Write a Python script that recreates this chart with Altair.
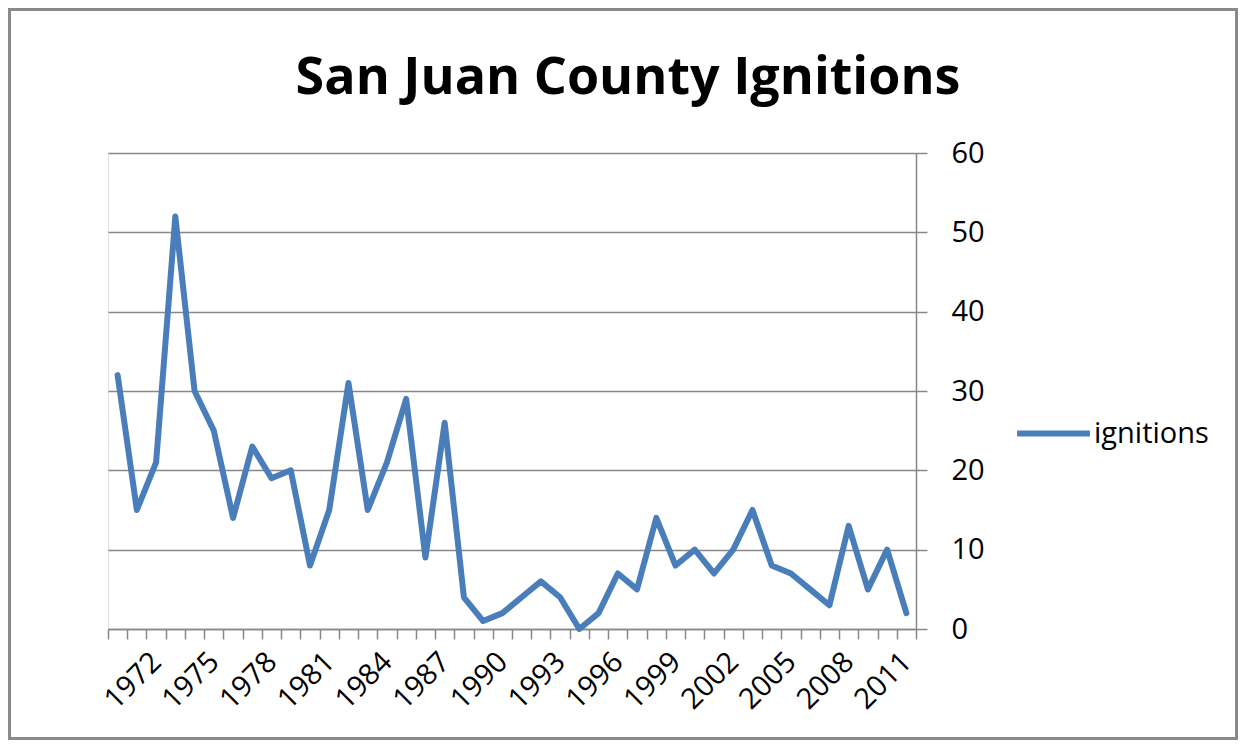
import altair as alt
import pandas as pd

years = list(range(1970, 2012))
ignitions = [32, 15, 21, 52, 30, 25, 14, 23, 19, 20,
             8, 15, 31, 15, 21, 29, 9, 26, 4, 1,
             2, 4, 6, 4, 0, 2, 7, 5, 14, 8,
             10, 7, 10, 15, 8, 7, 5, 3, 13, 5,
             10, 2]
series_name = "ignitions"
y_ticks = [0, 10, 20, 30, 40, 50, 60]
first_label_year = 1972
label_step = 3

df = pd.DataFrame({"year": years, "ignitions": ignitions, "series": series_name})

W, H = 808, 476
PAD = {"left": 100, "top": 145, "right": 322, "bottom": 111}
band = W / len(years)
tick_values = [y - 0.5 for y in years] + [years[-1] + 0.5]
FONT = "Open Sans"
GRID = "#878787"
BLUE = "#4A7EBB"
LABEL_SIZE = 29

label_expr = (
    f"(datum.value + 0.5 - {first_label_year}) % {label_step} == 0 && datum.value < {years[-1]} "
    f"? format(datum.value + 0.5, 'd') : ''"
)

line = alt.Chart(df).mark_line(strokeWidth=6, strokeJoin="round", strokeCap="round").encode(
    x=alt.X("year:Q",
            scale=alt.Scale(domain=[years[0] - 0.5, years[-1] + 0.5], nice=False, zero=False),
            axis=alt.Axis(values=tick_values, labelExpr=label_expr, title=None, grid=False,
                          orient="bottom", tickSize=10, tickColor=GRID, tickWidth=1.5,
                          domainColor=GRID, domainWidth=1.5, labelAngle=-45,
                          labelAlign="right", labelBaseline="middle",
                          labelFont=FONT, labelFontSize=LABEL_SIZE, labelColor="black",
                          labelPadding=18, labelOffset=band / 2, labelOverlap=False,
                          labelFlush=False, labelBound=False)),
    y=alt.Y("ignitions:Q",
            scale=alt.Scale(domain=[0, 60], nice=False),
            axis=alt.Axis(values=y_ticks, orient="right", title=None, grid=True,
                          gridColor=GRID, gridWidth=1.5, tickSize=11, tickColor=GRID,
                          tickWidth=1.5, domainColor=GRID, domainWidth=1.5,
                          labelFont=FONT, labelFontSize=LABEL_SIZE, labelColor="black",
                          labelPadding=24, labelAlign="left", labelBaseline="middle")),
    color=alt.Color("series:N", scale=alt.Scale(domain=[series_name], range=[BLUE]),
                    legend=alt.Legend(title=None, orient="none", legendX=906, legendY=241,
                                      symbolType="stroke", symbolSize=5300,
                                      symbolStrokeWidth=6, symbolStrokeColor=BLUE,
                                      labelFont=FONT, labelFontSize=LABEL_SIZE,
                                      labelColor="black",
                                      labelOffset=1, padding=0, offset=0)),
)

frame = alt.Chart(alt.Data(values=[{"f": 1}])).mark_rect(
    fill=None, stroke="#8a8a8a", strokeWidth=3
).encode(
    x=alt.value(-PAD["left"] + 1.5), x2=alt.value(W + PAD["right"] - 1.5),
    y=alt.value(-PAD["top"] + 1.5), y2=alt.value(H + PAD["bottom"] - 1.5),
)

chart = alt.layer(frame, line).properties(
    width=W, height=H,
    title=alt.TitleParams("San Juan County Ignitions", font=FONT, fontSize=52,
                          fontWeight="bold", color="black", anchor="middle",
                          frame="group", dx=116, baseline="alphabetic", offset=-138),
    autosize=alt.AutoSizeParams(type="none"),
    padding=PAD,
).configure_view(stroke=None).configure(background="white")

chart.save("out.html", embed_options={"renderer": "svg", "actions": False})
